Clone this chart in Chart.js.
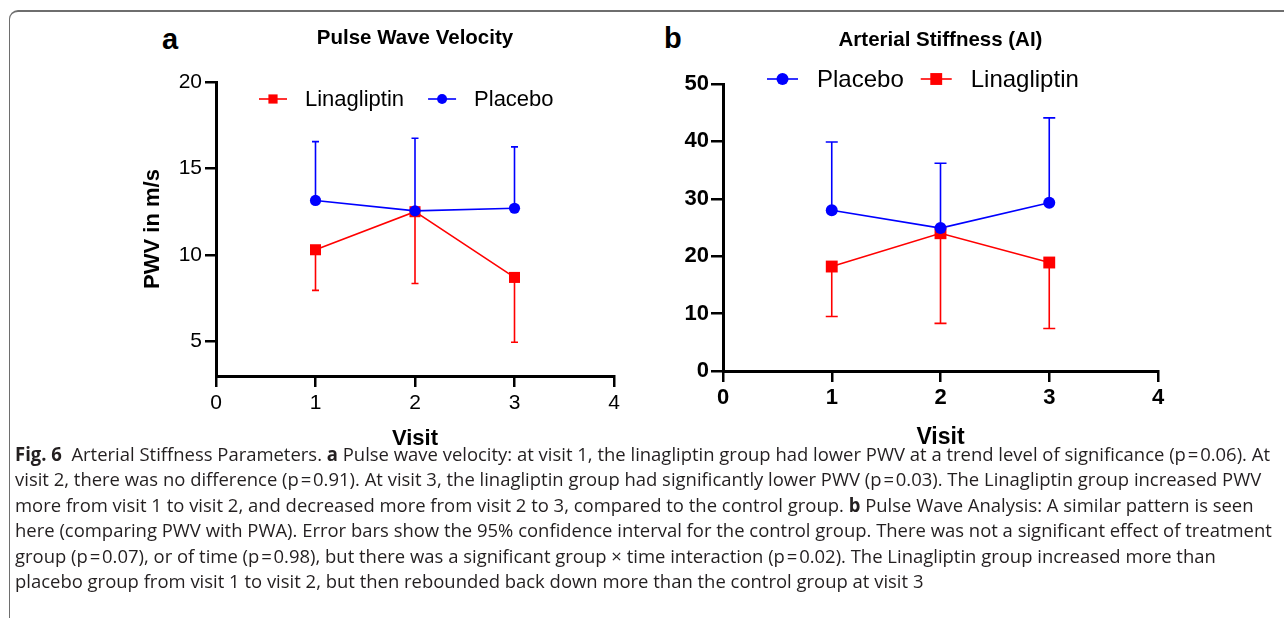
<!DOCTYPE html>
<html>
<head>
<meta charset="utf-8">
<script src="https://cdn.jsdelivr.net/npm/chart.js@4.4.1/dist/chart.umd.min.js"></script>
<style>
  html, body { margin: 0; padding: 0; background: #fff; }
  body { width: 1284px; height: 618px; position: relative; overflow: hidden; }
  .frame { position: absolute; left: 9px; top: 10px; width: 1400px; height: 700px;
           border-left: 1.5px solid #6e6e6e; border-top: 2px solid #6e6e6e; border-top-left-radius: 9px; }
  canvas { position: absolute; }
  .panel { position: absolute; font-family: "Liberation Sans", Arial, sans-serif; font-weight: bold;
           font-size: 29px; line-height: 1; color: #000; }
  #caption { position: absolute; left: 15px; top: 442px; font-family: "Open Sans", sans-serif;
             font-size: 19px; line-height: 25.4px; color: #231f20; transform-origin: 0 0; white-space: nowrap; }
  #caption div { white-space: nowrap; }
  #caption b { font-weight: 700; }
</style>
</head>
<body>
<div class="frame"></div>
<div class="panel" style="left:162px; top:25px;">a</div>
<div class="panel" style="left:664px; top:24px;">b</div>
<canvas id="chartA" width="520" height="455" style="left:130px; top:0px;"></canvas>
<canvas id="chartB" width="530" height="455" style="left:650px; top:0px;"></canvas>
<div id="caption">
  <div id="capLine1"><b>Fig. 6</b>&nbsp; Arterial Stiffness Parameters. <b>a</b> Pulse wave velocity: at visit 1, the linagliptin group had lower PWV at a trend level of significance (p&#8202;=&#8202;0.06). At</div>
  <div>visit 2, there was no difference (p&#8202;=&#8202;0.91). At visit 3, the linagliptin group had significantly lower PWV (p&#8202;=&#8202;0.03). The Linagliptin group increased PWV</div>
  <div>more from visit 1 to visit 2, and decreased more from visit 2 to 3, compared to the control group. <b>b</b> Pulse Wave Analysis: A similar pattern is seen</div>
  <div>here (comparing PWV with PWA). Error bars show the 95% confidence interval for the control group. There was not a significant effect of treatment</div>
  <div>group (p&#8202;=&#8202;0.07), or of time (p&#8202;=&#8202;0.98), but there was a significant group &times; time interaction (p&#8202;=&#8202;0.02). The Linagliptin group increased more than</div>
  <div>placebo group from visit 1 to visit 2, but then rebounded back down more than the control group at visit 3</div>
</div>
<script>
// ---------- DATA ----------
const visits = [1, 2, 3];
const visitTicks = [0, 1, 2, 3, 4];

// Panel a: Pulse Wave Velocity (m/s)
const pwvTicks = [5, 10, 15, 20];
const pwvLinagliptin = [10.3, 12.5, 8.7];
const pwvLinagliptinLower = [7.95, 8.35, 4.95];
const pwvPlacebo = [13.15, 12.55, 12.7];
const pwvPlaceboUpper = [16.55, 16.75, 16.25];

// Panel b: Arterial Stiffness (AI)
const aiTicks = [0, 10, 20, 30, 40, 50];
const aiPlacebo = [28.0, 24.9, 29.3];
const aiPlaceboUpper = [39.9, 36.2, 44.1];
const aiLinagliptin = [18.2, 24.0, 18.9];
const aiLinagliptinLower = [9.5, 8.3, 7.4];

const RED = '#ff0000';
const BLUE = '#0000ff';
const FONT = '"Liberation Sans", Arial, sans-serif';

// ---------- PLUGINS ----------
const errorBars = {
  id: 'errorBars',
  beforeDatasetsDraw(chart, args, opts) {
    const { ctx } = chart;
    const x = chart.scales.x, y = chart.scales.y;
    (opts.sets || []).forEach(s => {
      ctx.save();
      ctx.strokeStyle = s.color;
      ctx.lineWidth = s.width;
      s.means.forEach((m, i) => {
        const px = x.getPixelForValue(visits[i]);
        const y0 = y.getPixelForValue(m);
        const y1 = y.getPixelForValue(s.ends[i]);
        ctx.beginPath();
        ctx.moveTo(px, y0); ctx.lineTo(px, y1);
        ctx.moveTo(px - s.cap, y1); ctx.lineTo(px + s.cap, y1);
        ctx.stroke();
      });
      ctx.restore();
    });
  }
};

function drawMarker(ctx, style, r, cx, cy, color) {
  ctx.fillStyle = color;
  ctx.beginPath();
  if (style === 'rect') {
    const h = r * Math.SQRT1_2;
    ctx.rect(cx - h, cy - h, 2 * h, 2 * h);
  } else {
    ctx.arc(cx, cy, r, 0, Math.PI * 2);
  }
  ctx.fill();
}

const decor = {
  id: 'decor',
  afterDraw(chart, args, o) {
    const { ctx, chartArea } = chart;
    ctx.save();
    // title
    ctx.fillStyle = '#000';
    ctx.font = o.titleFont;
    ctx.textAlign = 'center';
    ctx.textBaseline = 'middle';
    ctx.fillText(o.title, (chartArea.left + chartArea.right) / 2 + (o.titleDx || 0), o.titleY);
    // legend
    ctx.font = o.legendFont;
    ctx.textAlign = 'left';
    let x = o.legendX;
    const ly = o.legendY;
    o.order.forEach(idx => {
      const ds = chart.data.datasets[idx];
      ctx.strokeStyle = ds.borderColor;
      ctx.lineWidth = ds.borderWidth;
      ctx.beginPath();
      ctx.moveTo(x, ly); ctx.lineTo(x + o.lineLen, ly);
      ctx.stroke();
      const mr = ds.pointStyle === 'rect' ? o.legendRect : o.legendCircle;
      drawMarker(ctx, ds.pointStyle, mr, x + o.lineLen / 2, ly, ds.backgroundColor);
      x += o.lineLen + o.gapText;
      ctx.fillStyle = '#000';
      ctx.fillText(ds.label, x, ly + 1);
      x += ctx.measureText(ds.label).width + o.gapItem;
    });
    ctx.restore();
  }
};

function makeDataset(label, values, color, style, radius) {
  return {
    label,
    data: values.map((v, i) => ({ x: visits[i], y: v })),
    borderColor: color,
    backgroundColor: color,
    borderWidth: 1.6,
    pointStyle: style,
    pointRadius: radius,
    pointBorderWidth: 0,
    pointBackgroundColor: color,
    tension: 0,
    clip: false
  };
}

// ---------- CHART A ----------
new Chart(document.getElementById('chartA'), {
  type: 'line',
  data: {
    datasets: [
      makeDataset('Placebo', pwvPlacebo, BLUE, 'circle', 5.6),
      makeDataset('Linagliptin', pwvLinagliptin, RED, 'rect', 7.8)
    ]
  },
  plugins: [errorBars, decor],
  options: {
    responsive: false,
    animation: false,
    devicePixelRatio: 1,
    layout: { padding: { top: 82, right: 36, bottom: 0, left: 0 } },
    plugins: {
      legend: { display: false },
      tooltip: { enabled: false },
      errorBars: {
        sets: [
          { means: pwvLinagliptin, ends: pwvLinagliptinLower, color: RED, width: 1.6, cap: 3.5 },
          { means: pwvPlacebo, ends: pwvPlaceboUpper, color: BLUE, width: 1.6, cap: 3.5 }
        ]
      },
      decor: {
        title: 'Pulse Wave Velocity', titleFont: 'bold 20.5px ' + FONT, titleY: 38,
        legendFont: '22px ' + FONT, legendX: 129, legendY: 99, lineLen: 28, gapText: 18, gapItem: 24,
        legendRect: 6.5, legendCircle: 5, order: [1, 0]
      }
    },
    scales: {
      x: {
        type: 'linear', min: 0, max: 4,
        afterFit(s) { s.height = 79; },
        afterBuildTicks(s) { s.ticks = visitTicks.map(v => ({ value: v })); },
        ticks: { color: '#000', font: { family: FONT, size: 21 }, padding: 4 },
        grid: { drawOnChartArea: false, color: '#000', lineWidth: 2.5, tickLength: 11 },
        border: { color: '#000', width: 3 },
        title: { display: true, text: 'Visit', color: '#000', font: { family: FONT, size: 22, weight: 'bold' }, padding: { top: 0, bottom: 3 } }
      },
      y: {
        type: 'linear', min: 3, max: 20,
        afterFit(s) { s.width = 86; },
        afterBuildTicks(s) { s.ticks = pwvTicks.map(v => ({ value: v })); },
        ticks: { color: '#000', font: { family: FONT, size: 21 }, padding: 3 },
        grid: { drawOnChartArea: false, color: '#000', lineWidth: 2.5, tickLength: 11 },
        border: { color: '#000', width: 3 },
        title: { display: true, text: 'PWV in m/s', color: '#000', font: { family: FONT, size: 22, weight: 'bold' }, padding: { top: 10, bottom: 0 } }
      }
    }
  }
});

// ---------- CHART B ----------
new Chart(document.getElementById('chartB'), {
  type: 'line',
  data: {
    datasets: [
      makeDataset('Placebo', aiPlacebo, BLUE, 'circle', 6),
      makeDataset('Linagliptin', aiLinagliptin, RED, 'rect', 8.4)
    ]
  },
  plugins: [errorBars, decor],
  options: {
    responsive: false,
    animation: false,
    devicePixelRatio: 1,
    layout: { padding: { top: 84, right: 22, bottom: 0, left: 0 } },
    plugins: {
      legend: { display: false },
      tooltip: { enabled: false },
      errorBars: {
        sets: [
          { means: aiLinagliptin, ends: aiLinagliptinLower, color: RED, width: 1.6, cap: 6 },
          { means: aiPlacebo, ends: aiPlaceboUpper, color: BLUE, width: 1.6, cap: 6 }
        ]
      },
      decor: {
        title: 'Arterial Stiffness (AI)', titleFont: 'bold 20.5px ' + FONT, titleY: 40,
        legendFont: '24px ' + FONT, legendX: 117, legendY: 79, lineLen: 31, gapText: 19, gapItem: 17,
        legendRect: 8.4, legendCircle: 6, order: [0, 1]
      }
    },
    scales: {
      x: {
        type: 'linear', min: 0, max: 4,
        afterFit(s) { s.height = 84; },
        afterBuildTicks(s) { s.ticks = visitTicks.map(v => ({ value: v })); },
        ticks: { color: '#000', font: { family: FONT, size: 22, weight: 'bold' }, padding: 3 },
        grid: { drawOnChartArea: false, color: '#000', lineWidth: 2.5, tickLength: 11 },
        border: { color: '#000', width: 3 },
        title: { display: true, text: 'Visit', color: '#000', font: { family: FONT, size: 23, weight: 'bold' }, padding: { top: 0, bottom: 4 } }
      },
      y: {
        type: 'linear', min: 0, max: 50,
        afterFit(s) { s.width = 73; },
        afterBuildTicks(s) { s.ticks = aiTicks.map(v => ({ value: v })); },
        ticks: { color: '#000', font: { family: FONT, size: 22, weight: 'bold' }, padding: 2 },
        grid: { drawOnChartArea: false, color: '#000', lineWidth: 2.5, tickLength: 12 },
        border: { color: '#000', width: 3 }
      }
    }
  }
});

// ---------- CAPTION FIT ----------
(function fitCaption() {
  const cap = document.getElementById('caption');
  const l1 = document.getElementById('capLine1');
  const range = document.createRange();
  range.selectNodeContents(l1);
  const w = range.getBoundingClientRect().width;
  const target = 1270 - 15;
  if (w > 0) cap.style.transform = 'scaleX(' + (target / w) + ')';
})();
</script>
</body>
</html>
